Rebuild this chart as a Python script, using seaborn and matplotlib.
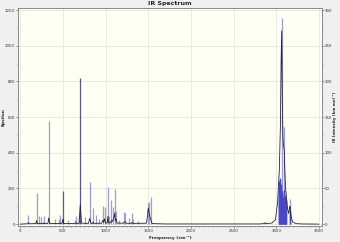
import matplotlib
matplotlib.use("Agg")
import matplotlib.pyplot as plt
from matplotlib.ticker import MultipleLocator
import seaborn as sns
import pandas as pd

# ---- data (left-axis "Epsilon" units) ----
light_stick_freq = [96, 192, 223, 242, 277, 335, 404, 454, 469, 558, 638, 654, 685,
                    762, 815, 854, 885, 923, 969, 988, 1027, 1038, 1069, 1088, 1108,
                    1123, 1154, 1219, 1231, 1269, 1308, 1327, 1385, 1492, 1508, 1527,
                    2870, 3063, 3093, 3161]
light_stick_eps = [52, 172, 43, 39, 46, 578, 31, 28, 52, 24, 24, 46, 43,
                   39, 237, 89, 52, 30, 102, 94, 209, 43, 135, 94, 198,
                   76, 24, 70, 65, 33, 61, 28, 20, 117, 126, 154,
                   6, 1157, 546, 140]

dark_stick_freq = [500, 704]
dark_stick_eps = [187, 820]

ch_stick_freq = [3027, 3032, 3037, 3042, 3047, 3052, 3057, 3062, 3067, 3072,
                 3080, 3085, 3090, 3095, 3100, 3105, 3110, 3115, 3158, 3163]
ch_stick_eps = [150, 200, 240, 260, 245, 225, 205, 185, 165, 140,
                150, 170, 190, 175, 160, 150, 135, 100, 80, 70]

curve_freq = [0, 80, 96, 110, 185, 192, 200, 270, 277, 285, 325, 335, 345, 460, 469,
              480, 492, 500, 510, 640, 654, 665, 690, 704, 718, 800, 815, 830, 846,
              854, 862, 955, 969, 978, 988, 1000, 1020, 1027, 1035, 1062, 1069, 1080,
              1095, 1108, 1115, 1123, 1135, 1210, 1219, 1231, 1240, 1300, 1308, 1316,
              1480, 1492, 1500, 1508, 1520, 1527, 1545, 1700, 2800, 2860, 2870, 2880,
              2950, 2990, 3015, 3035, 3048, 3056, 3063, 3070, 3078, 3085, 3093, 3100,
              3108, 3118, 3130, 3145, 3155, 3161, 3170, 3190, 3230, 3300, 3500]
curve_eps = [0, 2, 8, 2, 3, 20, 3, 3, 8, 3, 4, 35, 4, 3, 8,
             3, 4, 28, 3, 3, 8, 3, 5, 107, 5, 4, 32, 4, 4,
             12, 4, 5, 22, 10, 30, 6, 6, 43, 8, 8, 20, 15,
             30, 62, 20, 28, 6, 5, 12, 12, 5, 4, 10, 4,
             5, 50, 90, 70, 40, 30, 3, 1, 1, 3, 8, 3,
             6, 25, 120, 300, 550, 900, 1083, 700, 480, 435, 420, 300,
             200, 160, 90, 60, 90, 100, 50, 12, 3, 1, 0]

x_ticks = [0, 500, 1000, 1500, 2000, 2500, 3000, 3500]
left_ticks = [0, 200, 400, 600, 800, 1000, 1200]
right_ticks = [0, 50, 100, 150, 200, 250, 300]

title = "IR Spectrum"
x_label = "Frequency (cm⁻¹)"
left_label = "Epsilon"
right_label = "IR Intensity (km mol⁻¹)"

# ---- figure ----
sns.set_theme(style="white")
plt.rcParams["font.family"] = ["DejaVu Sans"]

fig = plt.figure(figsize=(3.4, 2.42), dpi=100, facecolor="#F0F0F0")
ax = fig.add_axes([0.053, 0.068, 0.894, 0.898])
ax.set_facecolor("#FFFFF3")

ax.vlines(light_stick_freq, 0, light_stick_eps, colors="#9C9CDA", linewidth=0.9, zorder=2)
ax.vlines(dark_stick_freq, 0, dark_stick_eps, colors="#55558F", linewidth=0.9, zorder=3)
ax.vlines(ch_stick_freq, 0, ch_stick_eps, colors="#4848C8", linewidth=1.0, zorder=3)

curve = pd.DataFrame({"freq": curve_freq, "eps": curve_eps})
sns.lineplot(data=curve, x="freq", y="eps", ax=ax, color="#22223A", linewidth=0.6,
             sort=False, estimator=None, zorder=4)

ax.set_xlim(-25, 3535)
ax.set_ylim(-8, 1210)
ax.set_xticks(x_ticks)
ax.set_yticks(left_ticks)
ax.xaxis.set_minor_locator(MultipleLocator(50))
ax.yaxis.set_minor_locator(MultipleLocator(100))
ax.grid(True, which="major", color="#E6E6DC", linewidth=0.6)
ax.set_axisbelow(True)

ax.tick_params(axis="both", which="major", direction="out", length=1.6, width=0.5,
               labelsize=2.8, pad=0.6, colors="#666666", labelcolor="#333333")
ax.tick_params(axis="both", which="minor", direction="out", length=1.0, width=0.4,
               colors="#666666")
ax.tick_params(axis="x", which="both", bottom=True)
ax.tick_params(axis="y", which="both", left=True)
for s in ax.spines.values():
    s.set_color("#8A8A8A")
    s.set_linewidth(0.6)

ax.set_xlabel(x_label, fontsize=3.2, fontweight="bold", va="center")
ax.xaxis.set_label_coords(0.5, -0.059)
ax.set_ylabel(left_label, fontsize=3.2, fontweight="bold", va="center")
ax.yaxis.set_label_coords(-0.0475, 0.5)
ax.set_title(title, fontsize=4.5, fontweight="bold", pad=2)

ax2 = ax.twinx()
ax2.set_ylim(-8 / 4, 1210 / 4)
ax2.set_yticks(right_ticks)
ax2.yaxis.set_minor_locator(MultipleLocator(25))
ax2.tick_params(axis="y", which="major", direction="out", length=1.6, width=0.5,
                labelsize=2.8, pad=0.5, colors="#666666", labelcolor="#333333")
ax2.tick_params(axis="y", which="minor", direction="out", length=1.0, width=0.4,
                colors="#666666")
ax2.tick_params(axis="y", which="both", right=True)
for s in ax2.spines.values():
    s.set_color("#8A8A8A")
    s.set_linewidth(0.6)
ax2.set_ylabel(right_label, fontsize=2.8, fontweight="bold", rotation=90, va="center")
ax2.yaxis.set_label_coords(1.043, 0.5)
ax2.grid(False)

fig.savefig("out.png", dpi=100, facecolor=fig.get_facecolor())
